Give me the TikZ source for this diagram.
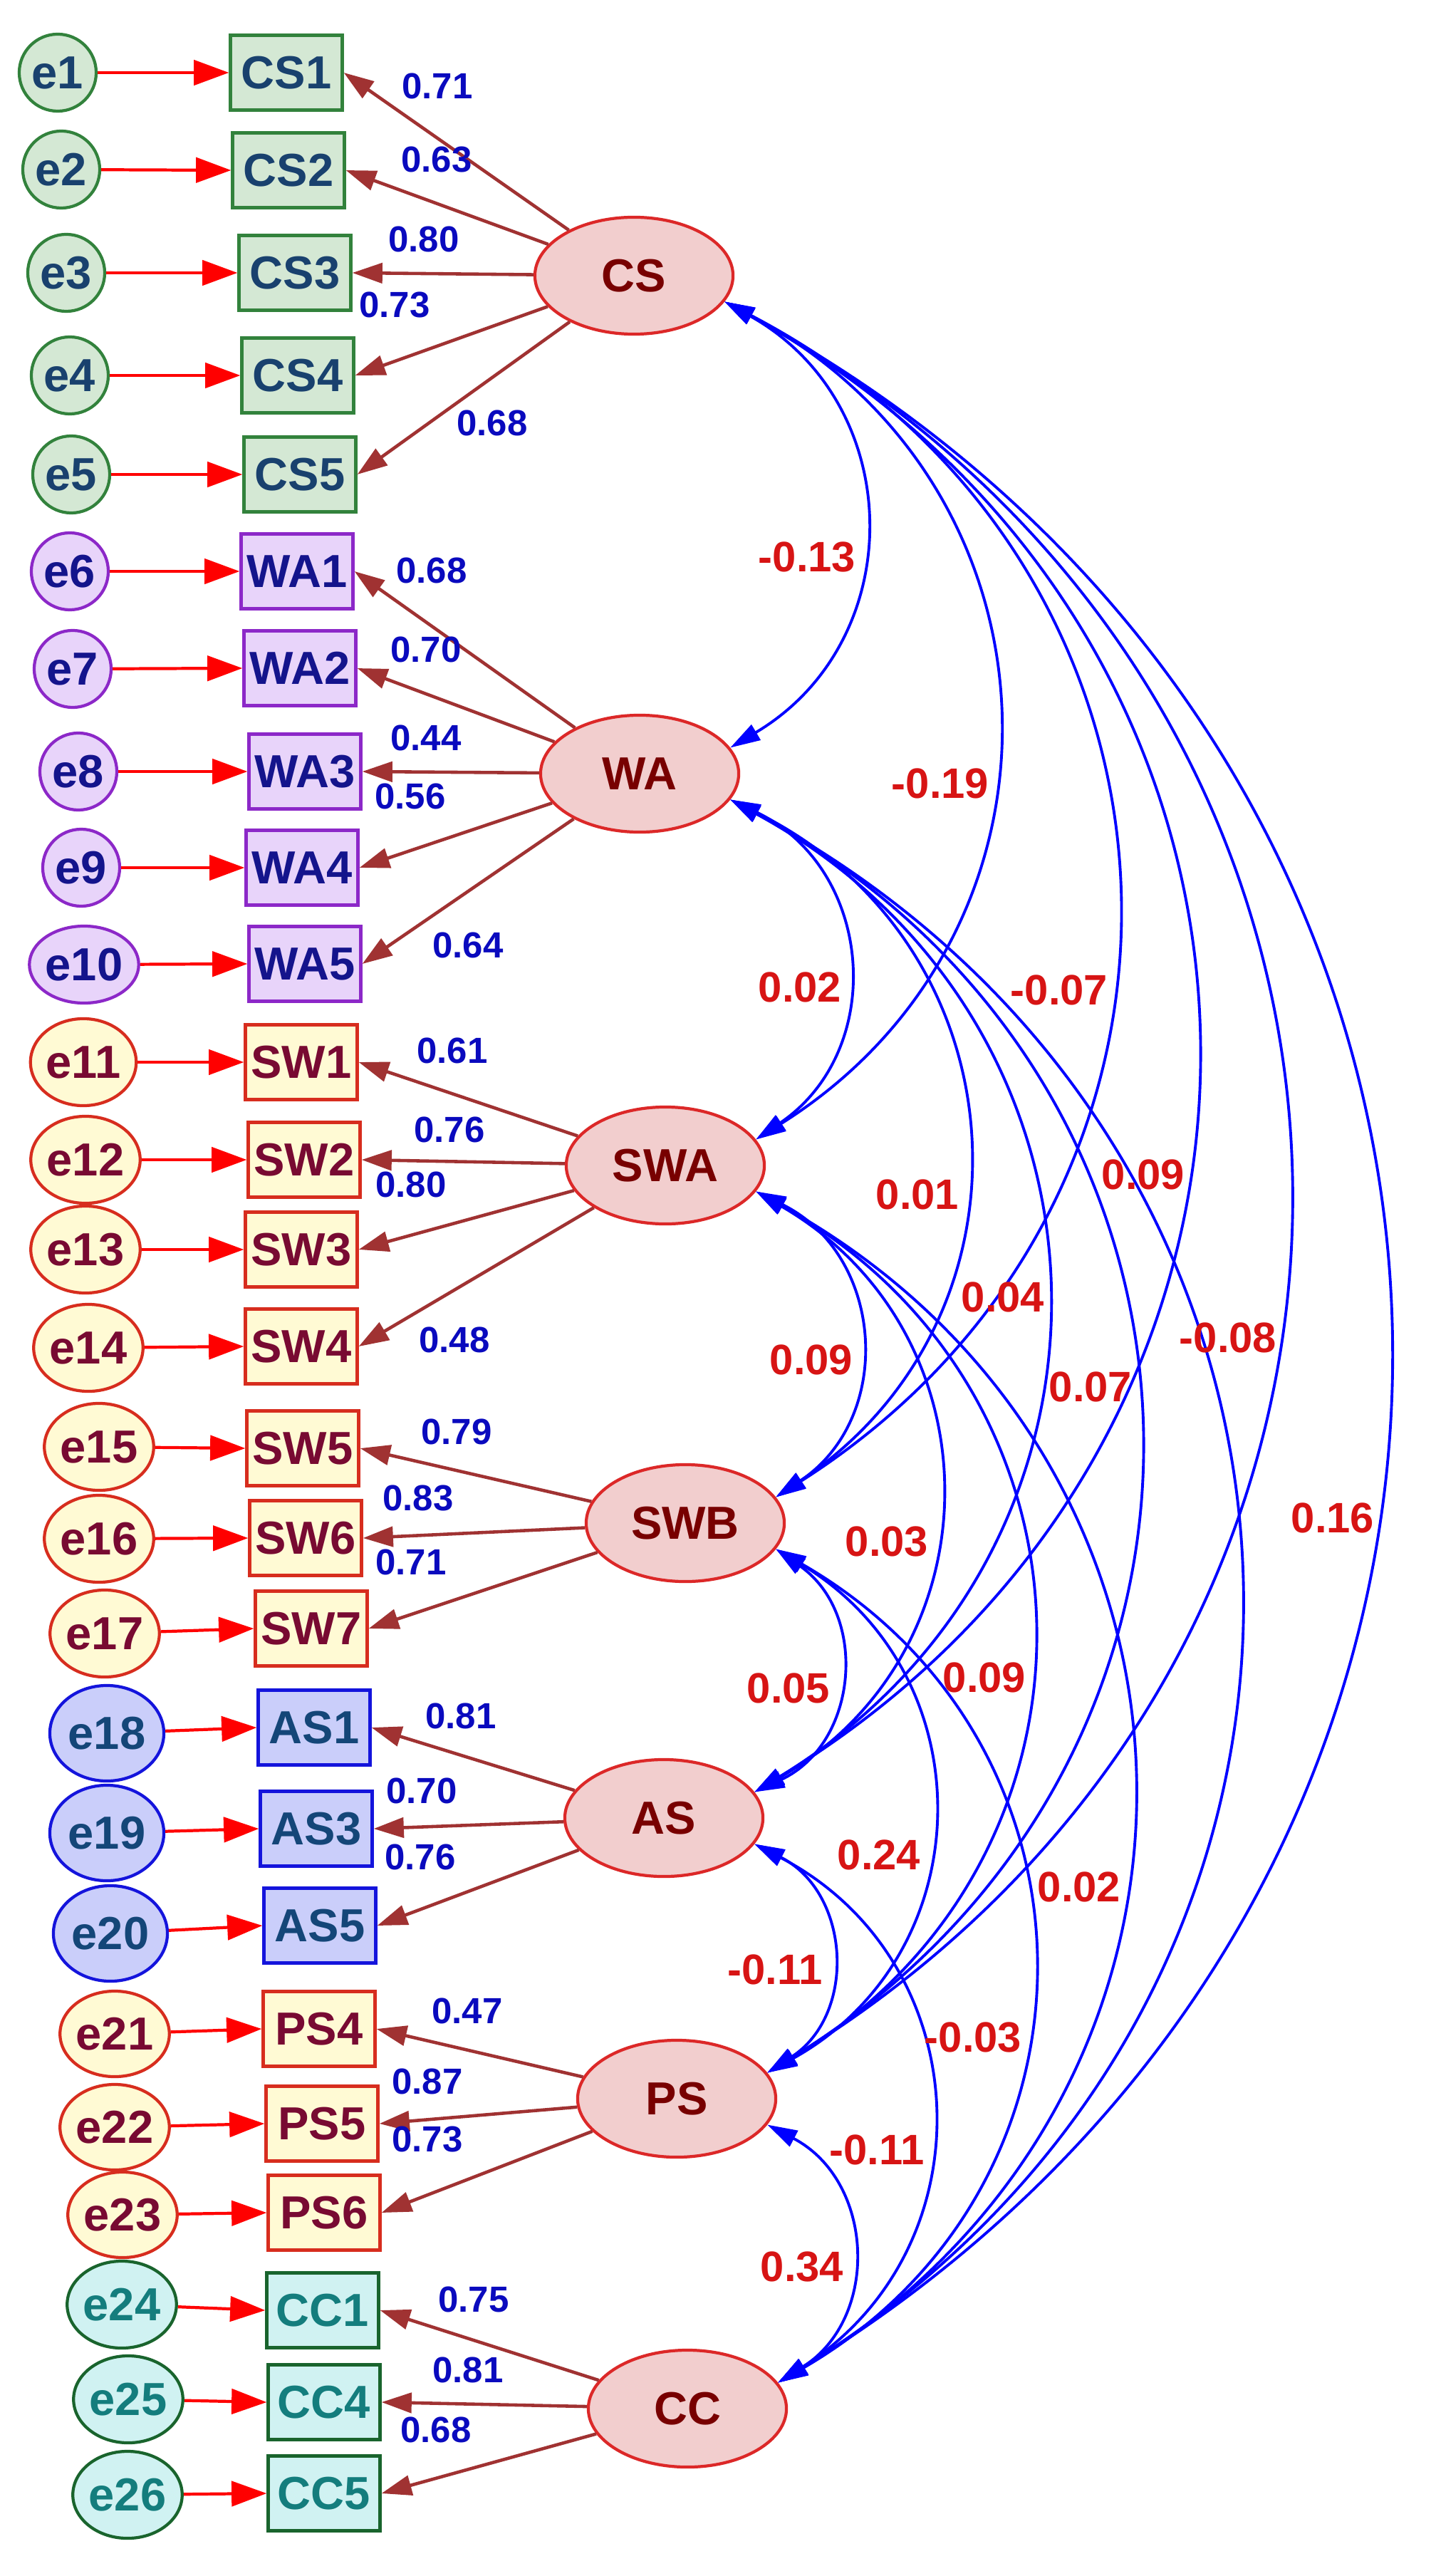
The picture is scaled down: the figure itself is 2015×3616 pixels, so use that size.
\documentclass[tikz,border=0pt]{standalone}
\usepackage{fontspec}
\setmainfont{Liberation Sans}
\usetikzlibrary{arrows.meta,shapes.geometric}
\definecolor{gF}{RGB}{212,232,212}\definecolor{gB}{RGB}{50,130,60}\definecolor{gT}{RGB}{25,65,110}
\definecolor{pF}{RGB}{232,212,250}\definecolor{pB}{RGB}{140,40,200}\definecolor{pT}{RGB}{20,20,140}
\definecolor{yF}{RGB}{255,250,212}\definecolor{yB}{RGB}{215,45,30}\definecolor{yT}{RGB}{120,10,50}
\definecolor{bF}{RGB}{202,206,250}\definecolor{bB}{RGB}{20,20,220}\definecolor{bT}{RGB}{20,70,120}
\definecolor{cF}{RGB}{208,242,242}\definecolor{cB}{RGB}{25,100,45}\definecolor{cT}{RGB}{20,125,125}
\definecolor{lF}{RGB}{242,206,206}\definecolor{lB}{RGB}{220,40,40}\definecolor{lT}{RGB}{120,0,0}
\definecolor{ld}{RGB}{160,50,50}\definecolor{lv}{RGB}{10,10,190}\definecolor{cv}{RGB}{215,20,20}
\begin{document}
\begin{tikzpicture}[x=0.01cm,y=-0.01cm,
 txt/.style={font=\fontsize{18.5}{21}\selectfont\bfseries},
 box/.style={txt,draw,line width=1.2pt,minimum width=1.57cm,minimum height=1.05cm,inner sep=0pt},
 err/.style={txt,ellipse,draw,line width=1.2pt,inner sep=0pt},
 lat/.style={txt,ellipse,draw=lB,fill=lF,text=lT,line width=1.2pt,minimum width=2.78cm,minimum height=1.64cm,inner sep=0pt},
 G/.style={fill=gF,draw=gB,text=gT}, P/.style={fill=pF,draw=pB,text=pT},
 Y/.style={fill=yF,draw=yB,text=yT}, B/.style={fill=bF,draw=bB,text=bT},
 C/.style={fill=cF,draw=cB,text=cT},
 e1s/.style={err,minimum width=1.08cm,minimum height=1.08cm},
 e2s/.style={err,minimum width=1.40cm,minimum height=1.22cm},
 e3s/.style={err,minimum width=1.60cm,minimum height=1.34cm},
 e4s/.style={err,minimum width=1.30cm,minimum height=1.20cm},
 ea/.style={draw=red,line width=1.2pt,-{Triangle[length=14pt,width=10pt]}},
 la/.style={draw=ld,line width=1.3pt,-{Triangle[length=12pt,width=8pt]}},
 cova/.style={draw=blue,line width=1.1pt,{Triangle[length=12pt,width=7pt]}-{Triangle[length=12pt,width=7pt]},bend left=60,looseness=1.2},
 lt/.style={font=\fontsize{14.5}{16}\selectfont\bfseries,text=lv},
 ct/.style={font=\fontsize{17}{20}\selectfont\bfseries,text=cv}]
\useasboundingbox (0,0) rectangle (2015,3616);
% latents
\node[lat] (CS) at (890,387) {CS};
\node[lat] (WA) at (898,1086) {WA};
\node[lat] (SWA) at (934,1636) {SWA};
\node[lat] (SWB) at (962,2138) {SWB};
\node[lat] (AS) at (932,2552) {AS};
\node[lat] (PS) at (950,2946) {PS};
\node[lat] (CC) at (965,3381) {CC};
% indicators
\foreach \n/\x/\y/\s in {
 CS1/402/102/G, CS2/405/239/G, CS3/414/383/G, CS4/418/527/G, CS5/421/666/G,
 WA1/417/802/P, WA2/421/938/P, WA3/428/1083/P, WA4/424/1218/P, WA5/428/1353/P,
 SW1/423/1491/Y, SW2/427/1628/Y, SW3/423/1754/Y, SW4/423/1890/Y,
 SW5/425/2033/Y, SW6/429/2159/Y, SW7/437/2286/Y,
 AS1/441/2425/B, AS3/444/2567/B, AS5/449/2703/B,
 PS4/448/2848/Y, PS5/452/2981/Y, PS6/455/3106/Y,
 CC1/453/3243/C, CC4/455/3372/C, CC5/455/3500/C}{
 \node[box,\s] (\n) at (\x,\y) {\n};
}
% errors
\foreach \k/\x/\y/\s/\es in {
 1/81/102/G/e1s,2/86/238/G/e1s,3/93/383/G/e1s,4/98/527/G/e1s,5/100/666/G/e1s,
 6/98/802/P/e1s,7/102/939/P/e1s,8/110/1083/P/e1s,9/114/1218/P/e1s,10/118/1354/P/e1s,
 11/117/1491/Y/e2s,12/120/1628/Y/e2s,13/120/1754/Y/e2s,14/124/1892/Y/e2s,15/139/2031/Y/e2s,16/139/2160/Y/e2s,17/147/2293/Y/e2s,
 18/150/2433/B/e3s,19/150/2573/B/e3s,20/155/2714/B/e3s,
 21/161/2855/Y/e4s,22/161/2986/Y/e4s,23/172/3109/Y/e4s,
 24/171/3235/C/e2s,25/180/3368/C/e2s,26/179/3502/C/e2s}{
 \node[\es,\s] (e\k) at (\x,\y) {e\k};
}
\foreach \e/\b in {1/CS1,2/CS2,3/CS3,4/CS4,5/CS5,6/WA1,7/WA2,8/WA3,9/WA4,10/WA5,11/SW1,12/SW2,13/SW3,14/SW4,15/SW5,16/SW6,17/SW7,18/AS1,19/AS3,20/AS5,21/PS4,22/PS5,23/PS6,24/CC1,25/CC4,26/CC5}
 \draw[ea] (e\e) -- (\b.west);
\foreach \l/\b in {CS/CS1,CS/CS2,CS/CS3,CS/CS4,CS/CS5,WA/WA1,WA/WA2,WA/WA3,WA/WA4,WA/WA5,SWA/SW1,SWA/SW2,SWA/SW3,SWA/SW4,SWB/SW5,SWB/SW6,SWB/SW7,AS/AS1,AS/AS3,AS/AS5,PS/PS4,PS/PS5,PS/PS6,CC/CC1,CC/CC4,CC/CC5}
 \draw[la] (\l) -- (\b.east);
% loadings
\foreach \t/\x/\y in {0.71/614/121,0.63/613/224,0.80/595/336,0.73/554/428,0.68/691/594,
 0.68/606/801,0.70/598/912,0.44/598/1036,0.56/576/1118,0.64/657/1327,
 0.61/635/1475,0.76/631/1586,0.80/577/1663,0.48/638/1881,
 0.79/641/2010,0.83/587/2103,0.71/577/2193,
 0.81/647/2409,0.70/592/2514,0.76/590/2607,
 0.47/656/2823,0.87/600/2922,0.73/600/3003,
 0.75/665/3228,0.81/657/3327,0.68/612/3411}
 \node[lt] at (\x,\y) {\t};
% covariances
\foreach \a/\b in {CS/WA,CS/SWA,CS/SWB,CS/AS,CS/PS,CS/CC,WA/SWA,WA/SWB,WA/AS,WA/PS,WA/CC,SWA/SWB,SWA/AS,SWA/PS,SWA/CC,SWB/AS,SWB/PS,SWB/CC,AS/PS,AS/CC,PS/CC}
 \draw[cova] (\a.-16) to (\b.16);
\foreach \t/\x/\y in {-0.13/1133/782,-0.19/1320/1100,0.02/1123/1386,-0.07/1487/1390,
 0.09/1605/1649,0.01/1288/1677,0.04/1408/1821,0.09/1139/1909,-0.08/1724/1878,0.07/1531/1947,
 0.16/1871/2131,0.03/1245/2164,0.05/1107/2370,0.09/1382/2355,
 0.24/1234/2604,0.02/1515/2649,-0.11/1088/2765,-0.03/1366/2860,-0.11/1231/3018,0.34/1126/3182}
 \node[ct] at (\x,\y) {\t};
\end{tikzpicture}
\end{document}
